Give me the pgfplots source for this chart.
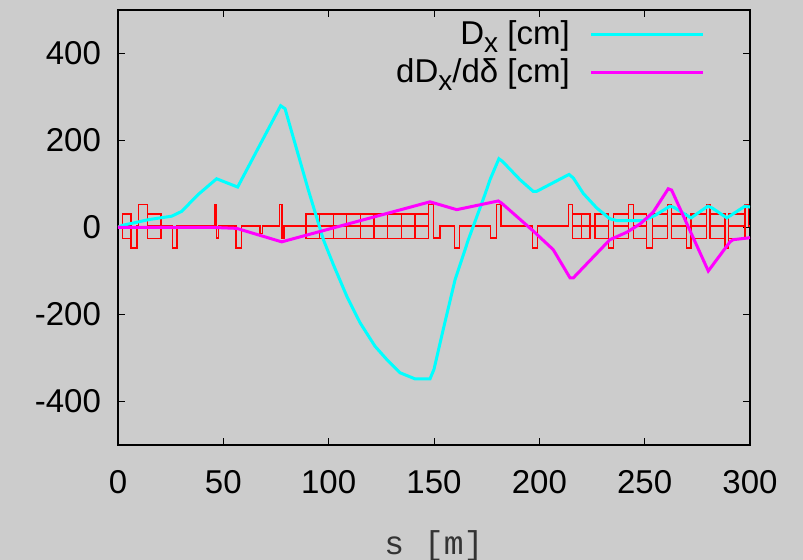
\documentclass[border=0pt]{standalone}
\usepackage{fontspec}
\setmainfont{Liberation Sans}
\newfontfamily\monofont{Liberation Mono}
\usepackage{pgfplots}
\pgfplotsset{compat=1.18}
\definecolor{bg}{RGB}{204,204,204}
\definecolor{cyn}{RGB}{0,255,255}
\definecolor{mag}{RGB}{255,0,255}
\definecolor{lred}{RGB}{255,0,0}
\newcommand{\sub}[1]{\raisebox{-4pt}{\fontsize{14}{14}\selectfont #1}}
\begin{document}
\begin{tikzpicture}
\path[use as bounding box, fill=bg] (-59pt,-57.5pt) rectangle (342.5pt,222.5pt);
\begin{axis}[
  at={(0pt,0pt)}, anchor=south west,
  scale only axis, width=316pt, height=217.5pt,
  xmin=0, xmax=300, ymin=-500, ymax=500,
  xtick={0,50,100,150,200,250,300},
  ytick={-400,-200,0,200,400},
  xticklabels={0,50,100,150,200,250,300},
  yticklabels={-400,-200,0,200,400},
  tick align=inside, major tick length=3.5pt,
  tick style={black, line width=0.5pt},
  axis line style={line width=0.6pt},
  ticklabel style={font=\fontsize{16.5}{18}\selectfont},
  xticklabel style={yshift=-9pt},
  yticklabel style={xshift=-5pt},
  xlabel={s [m]},
  xlabel style={font=\monofont\fontsize{16.5}{18}\selectfont, text=black!80, at={(axis description cs:0.5,0)}, anchor=center, yshift=-50.5pt},
  legend plot pos=right,
  legend cell align=right,
  legend image code/.code={\draw[#1] (0pt,0pt) -- (56pt,0pt);},
  legend style={draw=none, fill=none, at={(0.929,0.985)}, anchor=north east,
    font=\fontsize{16.5}{18}\selectfont, row sep=1.5pt, column sep=8pt, inner sep=0pt},
]
% lattice
\addplot[lred, line width=0.7pt, line join=miter, forget plot] coordinates {
(0,3)
(2,3)(2,31)(6.2,31)(6.2,-25)(2,-25)(2,3)(6.2,3)
(6.2,-47)(9,-47)(9,3)
(9.6,3)(9.6,53)(13.9,53)(13.9,3)
(13.9,31)(20.4,31)(20.4,-25)(13.9,-25)(13.9,3)(20.4,3)
(25.8,3)(25.8,-47)(28.1,-47)(28.1,3)
(46,3)(46,53)(46.8,53)(46.8,-24)(47.6,-24)(47.6,3)
(56.1,3)(56.1,-47)(58.7,-47)(58.7,3)
(67.4,3)(67.4,-14)(68.5,-14)(68.5,3)
(76.7,3)(76.7,53)(77.8,53)(77.8,-24)(78.8,-24)(78.8,3)
(89.2,3)
(89.2,31)(95.7,31)(95.7,-25)(89.2,-25)(89.2,3)(95.7,3)
(95.7,31)(102.2,31)(102.2,-25)(95.7,-25)(95.7,3)(102.2,3)
(102.2,31)(108.6,31)(108.6,-25)(102.2,-25)(102.2,3)(108.6,3)
(108.6,31)(115.1,31)(115.1,-25)(108.6,-25)(108.6,3)(115.1,3)
(115.1,31)(121.6,31)(121.6,-25)(115.1,-25)(115.1,3)(121.6,3)
(121.6,31)(128.0,31)(128.0,-25)(121.6,-25)(121.6,3)(128.0,3)
(128.0,31)(134.5,31)(134.5,-25)(128.0,-25)(128.0,3)(134.5,3)
(134.5,31)(141.0,31)(141.0,-25)(134.5,-25)(134.5,3)(141.0,3)
(141.0,31)(147.4,31)(147.4,-25)(141.0,-25)(141.0,3)(147.4,3)
(147.4,53)(149.7,53)(149.7,-24)(152.8,-24)(152.8,3)
(159.6,3)(159.6,-47)(162,-47)(162,3)
(176.9,3)(176.9,-24)(179.7,-24)(179.7,53)(181.8,53)(181.8,3)
(196.7,3)(196.7,-47)(199,-47)(199,3)
(213.8,3)(213.8,53)(215.8,53)(215.8,3)
(215.8,31)(220.0,31)(220.0,-25)(215.8,-25)(215.8,3)(220.0,3)
(220.0,31)(224.1,31)(224.1,-25)(220.0,-25)(220.0,3)(224.1,3)
(226.4,3)
(226.4,31)(232.7,31)(232.7,-25)(226.4,-25)(226.4,3)(232.7,3)
(232.7,-47)(235.1,-47)(235.1,3)
(235.1,31)(242.2,31)(242.2,-25)(235.1,-25)(235.1,3)(242.2,3)
(242.2,53)(244.6,53)(244.6,3)
(244.6,31)(251.0,31)(251.0,-25)(244.6,-25)(244.6,3)(251.0,3)
(251.0,-47)(253.6,-47)(253.6,3)
(253.6,31)(260.7,31)(260.7,-25)(253.6,-25)(253.6,3)(260.7,3)
(260.7,53)(262.8,53)(262.8,3)
(262.8,31)(269.9,31)(269.9,-25)(262.8,-25)(262.8,3)(269.9,3)
(269.9,-47)(272.0,-47)(272.0,3)
(272.0,31)(279.4,31)(279.4,-25)(272.0,-25)(272.0,3)(279.4,3)
(279.4,53)(281.0,53)(281.0,3)
(281.0,31)(288.1,31)(288.1,-25)(281.0,-25)(281.0,3)(288.1,3)
(288.1,-47)(289.9,-47)(289.9,3)
(289.9,31)(297.6,31)(297.6,-25)(289.9,-25)(289.9,3)(297.6,3)
(297.6,53)(299.2,53)(299.2,3)(300,3)
};
% Dx
\addplot[cyn, line width=1.5pt] coordinates {
(0,0)(2,5)(8,11)(14.4,18)(25.5,26)(30.2,37)(38.1,76)(46.8,112)(56.8,93)
(77.2,280)(79.3,273)(90.3,87)(97.5,-28)(102.2,-85)(108.6,-158)(114.9,-219)
(122,-273)(127.5,-303)(133.9,-334)(141,-348)(148.1,-348)(150,-326)(154.4,-234)
(160,-120)(163.1,-75)(166.3,-28)(174.2,76)(176.6,110)(180.8,158)(182.5,152)
(190.8,110)(197.1,83)(198.7,83)(214.1,122)(216.1,114)(220.9,78)(227.2,45)
(233.5,20)(236.7,16)(249.4,16)(255,28)(262,49)(264,46)(272,22)(280,49)(282,45)
(289,22)(297.6,49)(300,47)
};
\addlegendentry{D\sub{x} [cm]}
% dDx/ddelta
\addplot[mag, line width=1.5pt] coordinates {
(0,0)(46,0)(56.3,-2)(77.7,-33)(148.1,59)(160.8,41)(180.5,61)(182.1,56)
(197.1,-8)(206.6,-51)(214.6,-116)(216.1,-116)(233.5,-28)(241.5,-11)(247.8,8)
(254,35)(261.2,89)(262.8,86)(280.2,-100)(290.5,-33)(292,-28)(299.2,-24)(300,-23)
};
\addlegendentry{dD\sub{x}/dδ [cm]}
\end{axis}
\end{tikzpicture}
\end{document}
